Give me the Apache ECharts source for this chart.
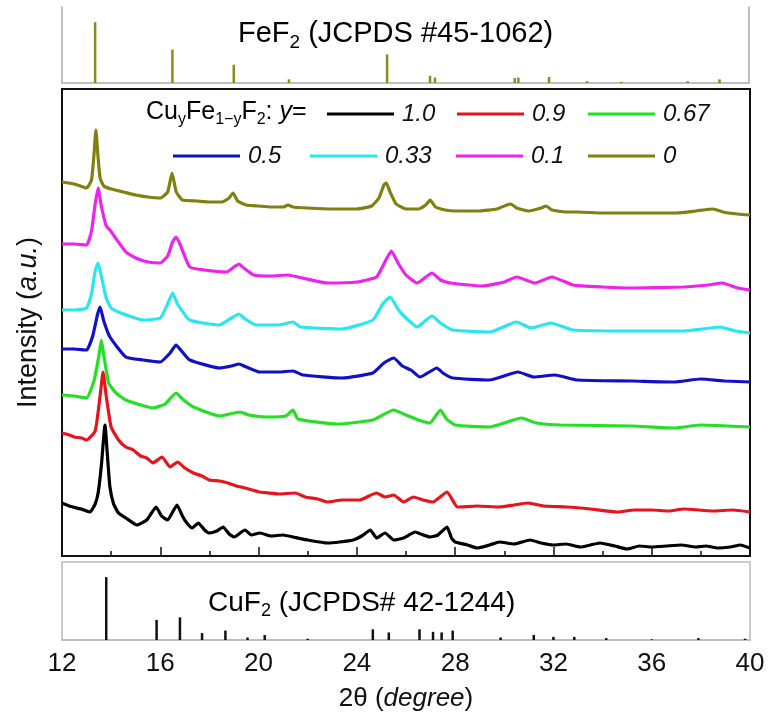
<!DOCTYPE html>
<html><head><meta charset="utf-8">
<script src="https://cdn.jsdelivr.net/npm/echarts@6/dist/echarts.min.js"></script>
<style>html,body{margin:0;padding:0;background:#fff}#c{width:775px;height:716px}</style>
</head><body><div id="c"></div>
<script>
// ---- tick labels ----
const xTicks = [12, 16, 20, 24, 28, 32, 36, 40];
// ---- reference sticks ----
const fef2Pos = [13.35, 16.5, 19.0, 21.25, 25.25, 27.0, 27.2, 30.45, 30.6, 31.85, 33.4, 34.8, 37.5, 38.8];
const fef2Int = [100, 55, 30, 6, 47, 12, 9, 8, 9, 10, 3, 2, 3, 6];
const cuf2Pos = [13.8, 15.85, 16.8, 17.7, 18.65, 19.55, 20.25, 22.0, 24.65, 25.3, 26.55, 27.1, 27.45, 27.9, 29.85, 31.2, 32.0, 32.85, 34.15, 36.0, 37.9, 39.8];
const cuf2Int = [100, 32, 36, 11, 15, 4, 8, 2, 17, 12, 17, 13, 12, 15, 4, 8, 5, 5, 3, 1, 3, 2];
// ---- XRD patterns (2θ, stacked intensity a.u.) ----
const y0 = [[12.0,374],[12.5,372],[13.0,368],[13.2,376],[13.3,401],[13.38,426],[13.46,401],[13.55,378],[13.7,370],[14.0,367],[14.5,364],[15.0,361],[15.5,359],[16.0,358],[16.3,364],[16.48,383],[16.65,364],[16.9,356],[17.5,355],[18.0,354],[18.5,354],[18.8,358],[18.96,363],[19.15,355],[19.5,351],[20.0,350],[20.5,349],[21.0,349],[21.2,351],[21.4,349],[22.0,348],[23.0,347],[24.0,347],[24.6,350],[24.9,358],[25.1,371],[25.2,373],[25.35,364],[25.6,352],[26.0,347],[26.5,347],[26.8,351],[26.98,356],[27.2,349],[27.6,346],[28.0,345],[28.5,345],[29.0,345],[29.7,347],[30.1,351],[30.27,352],[30.5,348],[31.0,345],[31.5,348],[31.7,350],[31.95,346],[32.5,344],[33.0,344],[34.0,343],[35.0,343],[36.0,343],[37.0,343],[37.8,345],[38.5,347],[38.9,344],[39.5,342],[40.0,341]];
const y01 = [[12.0,312],[12.5,312],[13.0,311],[13.2,325],[13.35,352],[13.47,368],[13.6,350],[13.8,330],[13.95,326],[14.6,304],[15.0,298],[15.5,294],[16.0,293],[16.3,300],[16.5,314],[16.64,319],[16.8,312],[17.2,289],[17.8,286],[18.7,284],[19.0,289],[19.2,292],[19.4,288],[19.8,281],[20.5,280],[21.2,281],[21.6,279],[22.8,273],[24.0,274],[24.8,279],[25.1,292],[25.4,305],[25.7,292],[26.0,281],[26.45,273],[27.06,283],[27.4,276],[27.8,273],[29.1,270],[30.0,274],[30.5,279],[31.25,273],[31.94,279],[32.8,271],[34.0,269],[35.24,268],[37.3,269],[38.3,271],[38.86,273],[39.5,268],[40.0,266]];
const y033 = [[12.0,246],[12.5,246],[13.0,248],[13.2,262],[13.35,285],[13.47,293],[13.6,280],[13.8,258],[14.0,248],[14.4,243],[15.3,236],[16.0,238],[16.3,252],[16.5,263],[16.7,252],[17.2,236],[18.4,231],[18.9,238],[19.2,242],[19.45,237],[19.9,231],[20.8,231],[21.4,234],[21.7,229],[23.4,227],[24.65,236],[25.05,252],[25.35,259],[25.7,246],[26.0,238],[26.45,229],[27.06,240],[27.4,233],[27.9,226],[29.4,224],[30.5,234],[31.1,228],[31.9,233],[32.8,226],[35.2,225],[37.3,225],[38.8,229],[39.4,225],[40.0,223]];
const y05 = [[12.0,207],[12.5,207],[13.0,206],[13.25,220],[13.45,242],[13.55,249],[13.7,235],[13.95,219],[14.6,199],[15.3,196],[16.0,194],[16.4,203],[16.64,211],[16.9,204],[17.2,196],[18.4,188],[18.9,190],[19.2,192],[19.5,189],[20.05,184],[20.8,184],[21.4,185],[21.8,181],[23.4,178],[24.65,183],[25.1,193],[25.5,198],[25.85,190],[26.2,186],[26.57,179],[27.26,188],[27.5,183],[27.9,178],[29.4,176],[30.56,184],[31.2,179],[32.06,181],[32.96,176],[35.2,175],[36.9,174],[38.0,177],[39.0,175],[40.0,174]];
const y067 = [[12.0,161],[12.5,160],[13.0,158],[13.3,175],[13.5,200],[13.6,216],[13.72,198],[13.9,173],[14.2,163],[14.6,156],[15.7,148],[16.2,152],[16.64,163],[16.95,156],[17.35,149],[18.4,140],[19.25,144],[19.6,141],[20.35,139],[21.1,140],[21.4,146],[21.6,137],[23.2,132],[24.65,136],[25.5,146],[26.0,141],[26.5,136],[26.97,133],[27.4,146],[27.65,137],[28.0,131],[29.4,129],[30.7,138],[31.3,133],[32.3,131],[35.2,130],[36.9,128],[38.0,131],[40.0,129]];
const y09 = [[12.0,123],[12.3,121],[12.5,119],[12.8,118],[13.0,116],[13.35,125],[13.55,160],[13.67,184],[13.8,160],[14.0,129],[14.3,116],[14.6,109],[14.9,106],[15.2,100],[15.45,98],[15.7,93],[16.07,99],[16.4,89],[16.7,94],[17.0,88],[17.35,83],[17.7,80],[18.0,76],[18.4,75],[18.75,73],[19.1,70],[19.45,68],[19.75,66],[20.05,64],[20.4,63],[20.8,62],[21.5,63],[21.9,59],[22.4,57],[22.8,54],[23.4,56],[24.1,56],[24.8,63],[25.15,59],[25.5,61],[25.9,54],[26.3,59],[26.7,56],[27.1,54],[27.67,64],[28.1,49],[28.9,50],[29.8,49],[30.4,51],[30.97,53],[31.6,50],[32.55,49],[33.5,47],[34.6,44],[35.3,46],[36.0,46],[36.7,45],[37.3,47],[38.5,45],[39.3,46],[40.0,44]];
const y10 = [[12.0,53],[12.3,50],[12.6,48],[12.9,46],[13.14,44],[13.35,52],[13.47,63],[13.6,90],[13.75,131],[13.85,100],[13.95,69],[14.1,52],[14.3,43],[14.6,38],[15.05,31],[15.45,36],[15.83,49],[16.05,40],[16.3,36],[16.68,51],[16.9,40],[17.08,33],[17.3,28],[17.55,33],[17.8,26],[18.0,23],[18.3,25],[18.56,29],[18.8,22],[19.0,19],[19.45,26],[19.7,21],[20.06,23],[20.5,20],[21.0,21],[21.4,19],[22.0,16],[22.8,13],[23.3,14],[23.85,16],[24.2,20],[24.55,26],[24.8,18],[25.15,23],[25.5,16],[25.9,18],[26.37,24],[26.7,21],[26.98,19],[27.3,21],[27.67,29],[27.85,18],[28.0,14],[28.5,11],[28.9,8],[29.4,11],[29.8,14],[30.4,12],[31.05,16],[31.5,13],[32.0,11],[32.5,12],[33.1,9],[33.5,11],[33.9,13],[34.5,10],[35.0,7],[35.5,10],[36.0,9],[36.6,10],[37.2,11],[37.8,9],[38.2,10],[38.7,8],[39.2,9],[39.6,11],[40.0,8]];

const seriesNames = ['1.0', '0.9', '0.67', '0.5', '0.33', '0.1', '0'];
const seriesData = [y10, y09, y067, y05, y033, y01, y0];
const colors = ['#000000', '#e8141c', '#22e022', '#1010c8', '#28e6f0', '#ee22ee', '#808010'];
// legend slot positions
const legendLeft = [327, 457, 588, 173, 310, 456, 588];
const legendTop  = [102, 102, 102, 144, 144, 144, 144];

const FONT = '"Liberation Sans", Arial, sans-serif';
const chart = echarts.init(document.getElementById('c'), null, {renderer: 'canvas'});

const grids = [
  {left: 62, top: 7, width: 687, height: 76},
  {left: 62, top: 89, width: 688, height: 467, show: true, borderColor: '#111', borderWidth: 2, backgroundColor: 'transparent'},
  {left: 62, top: 562, width: 688, height: 78, show: true, borderColor: '#bbb', borderWidth: 1.5, backgroundColor: 'transparent'}
];

const xAxes = [
  {gridIndex: 0, type: 'value', min: 12, max: 40, axisLine: {show: true, lineStyle: {color: '#aaa', width: 1.5}}, axisTick: {show: false}, axisLabel: {show: false}, splitLine: {show: false}},
  {gridIndex: 1, type: 'value', min: 12, max: 40, interval: 4,
   axisLine: {show: true, onZero: false, lineStyle: {color: '#111', width: 2}},
   axisTick: {show: true, inside: true, length: 9, lineStyle: {color: '#111', width: 1.5}},
   minorTick: {show: true, splitNumber: 2, length: 5, lineStyle: {color: '#111', width: 1.5}},
   axisLabel: {show: false}, splitLine: {show: false}},
  {gridIndex: 2, type: 'value', min: 12, max: 40, interval: 4,
   axisLine: {show: true, lineStyle: {color: '#bbb', width: 1.5}}, axisTick: {show: false},
   axisLabel: {show: true, fontSize: 26, color: '#111', fontFamily: FONT, margin: 11,
     formatter: v => xTicks.includes(v) ? String(v) : ''},
   splitLine: {show: false},
   name: '2θ ({it|degree})', nameLocation: 'middle', nameGap: 46,
   nameTextStyle: {fontSize: 26, color: '#111', fontFamily: FONT,
     rich: {it: {fontSize: 26, fontStyle: 'italic', color: '#111', fontFamily: FONT}}}}
];

const yAxes = [
  {gridIndex: 0, type: 'value', min: 0, max: 125, axisLine: {show: true, lineStyle: {color: '#aaa', width: 1.5}}, axisTick: {show: false}, axisLabel: {show: false}, splitLine: {show: false}},
  {gridIndex: 0, type: 'value', position: 'right', min: 0, max: 125, axisLine: {show: true, lineStyle: {color: '#aaa', width: 1.5}}, axisTick: {show: false}, axisLabel: {show: false}, splitLine: {show: false}},
  {gridIndex: 1, type: 'value', min: 0, max: 467, axisLine: {show: false}, axisTick: {show: false}, axisLabel: {show: false}, splitLine: {show: false},
   name: 'Intensity ({it|a.u.})', nameLocation: 'middle', nameGap: 20,
   nameTextStyle: {fontSize: 27, color: '#111', fontFamily: FONT,
     rich: {it: {fontSize: 27, fontStyle: 'italic', color: '#111', fontFamily: FONT}}}},
  {gridIndex: 2, type: 'value', min: 0, max: 124, axisLine: {show: false}, axisTick: {show: false}, axisLabel: {show: false}, splitLine: {show: false}}
];

const series = [
  {type: 'bar', name: 'FeF2', xAxisIndex: 0, yAxisIndex: 0, barWidth: 2.5, itemStyle: {color: '#8c8c1c'},
   data: fef2Pos.map((p, i) => [p, fef2Int[i]]), silent: true},
  {type: 'bar', name: 'CuF2', xAxisIndex: 2, yAxisIndex: 3, barWidth: 2.5, itemStyle: {color: '#111'},
   data: cuf2Pos.map((p, i) => [p, cuf2Int[i]]), silent: true}
];
seriesNames.forEach((n, i) => {
  series.push({type: 'line', name: n, xAxisIndex: 1, yAxisIndex: 2, data: seriesData[i],
    showSymbol: false, symbol: 'none', smooth: 0.15,
    lineStyle: {color: colors[i], width: 3.2}, itemStyle: {color: colors[i]}, z: 10 - i});
});

const legends = seriesNames.map((n, i) => ({
  data: [n], left: legendLeft[i], top: legendTop[i], icon: 'rect', itemWidth: 67, itemHeight: 3,
  padding: 0, itemGap: 0, selectedMode: false,
  textStyle: {fontSize: 24, fontStyle: 'italic', color: '#111', fontFamily: FONT, padding: [0, 0, 0, 3]}
}));

const subStyle = {fontSize: 16, fontFamily: FONT, color: '#111', padding: [12, 0, 0, 0], verticalAlign: 'top'};
const mainStyle = (fs) => ({fontSize: fs, fontFamily: FONT, color: '#111', verticalAlign: 'top', padding: [0, 0, 0, 0]});

chart.setOption({
  backgroundColor: '#fff',
  animation: false,
  grid: grids, xAxis: xAxes, yAxis: yAxes, series: series, legend: legends,
  graphic: [
    {type: 'text', left: 146, top: 100, z: 50,
     style: {text: '{m|Cu}{s|y}{m|Fe}{s|1−y}{m|F}{s|2}{m|: }{i|y}{m|=}',
       rich: {m: mainStyle(25), s: subStyle, i: Object.assign(mainStyle(25), {fontStyle: 'italic'})}}},
    {type: 'text', left: 238, top: 19, z: 50,
     style: {text: '{m|FeF}{s|2}{m| (JCPDS #45-1062)}',
       rich: {m: mainStyle(29), s: Object.assign({}, subStyle, {fontSize: 19, padding: [14, 0, 0, 0]})}}},
    {type: 'text', left: 208, top: 589, z: 50,
     style: {text: '{m|CuF}{s|2}{m| (JCPDS# 42-1244)}',
       rich: {m: mainStyle(28), s: Object.assign({}, subStyle, {fontSize: 18, padding: [13, 0, 0, 0]})}}}
  ]
});
</script></body></html>
